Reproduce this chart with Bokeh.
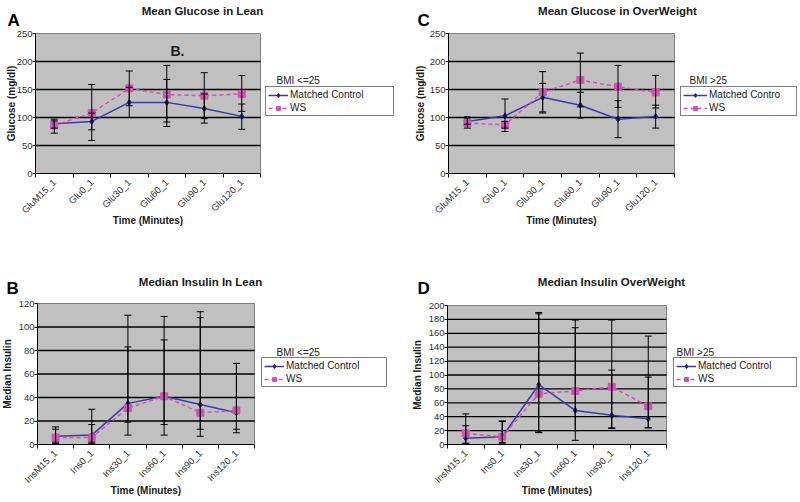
import numpy as np
from bokeh.plotting import figure
from bokeh.models import (Range1d, FixedTicker, ColumnDataSource, Whisker, TeeHead,
                          Legend, LegendItem, Label)
from bokeh.layouts import column, row
from bokeh.embed import file_html
from bokeh.resources import INLINE

# ---------------- data ----------------
glu_labels = ["GluM15_1", "Glu0_1", "Glu30_1", "Glu60_1", "Glu90_1", "Glu120_1"]
ins_labels = ["InsM15_1", "Ins0_1", "Ins30_1", "Ins60_1", "Ins90_1", "Ins120_1"]

# A: Mean Glucose in Lean
a_ctrl = [89, 93, 127, 127, 116, 102]
a_ctrl_lo = [81, 78, 100, 84, 90, 79]
a_ctrl_hi = [97, 108, 154, 168, 142, 124]
a_ws = [86, 108, 152, 141, 139, 142]
a_ws_lo = [72, 59, 121, 92, 98, 111]
a_ws_hi = [94, 159, 183, 193, 180, 175]

# C: Mean Glucose in OverWeight
c_ctrl = [93, 103, 136, 122, 97, 102]
c_ctrl_lo = [88, 75, 110, 99, 64, 81]
c_ctrl_hi = [101, 133, 161, 145, 130, 122]
c_ws = [90, 87, 145, 167, 155, 145]
c_ws_lo = [81, 81, 108, 119, 118, 117]
c_ws_hi = [99, 93, 182, 215, 193, 175]

# B: Median Insulin In Lean
b_ctrl = [7, 8, 35, 41, 34, 27]
b_ctrl_lo = [1, 1, 8, 8, 7, 10]
b_ctrl_hi = [15, 30, 110, 109, 113, 69]
b_ws = [6, 6, 31, 41, 27, 29]
b_ws_lo = [2, 2, 19, 17, 13, 13]
b_ws_hi = [13, 17, 83, 89, 108, 69]

# D: Median Insulin OverWeight
d_ctrl = [9, 11, 86, 49, 42, 37]
d_ctrl_lo = [1, 1, 17, 6, 23, 24]
d_ctrl_hi = [27, 34, 190, 168, 107, 97]
d_ws = [16, 11, 73, 77, 83, 55]
d_ws_lo = [2, 3, 18, 20, 24, 24]
d_ws_hi = [44, 33, 188, 179, 179, 156]

FONT = "Liberation Sans"
C_CTRL = "#3b3ba8"
C_CTRL_M = "#232378"
C_WS = "#d052b4"
TXT = "#1a1a1a"
NBSP = "\u00a0"


def make_panel(cats, ctrl, ctrl_lo, ctrl_hi, ws, ws_lo, ws_hi, ymax, ystep, ylabel,
               title, letter, bmi, ctrl_name, geo, note=None):
    W, H = geo["fig"]
    L, T, R, B = geo["area"]
    n = len(cats)
    ppx = (R - L) / n
    ppy = (B - T) / ymax
    x0, x1 = -L / ppx, n + (W - R) / ppx
    y0, y1 = -(H - B) / ppy, ymax + T / ppy

    def dx(px):
        return x0 + px / ppx

    def dy(py):
        return y1 - py / ppy

    p = figure(width=W, height=H, x_range=Range1d(x0, x1), y_range=Range1d(y0, y1),
               output_backend="svg", toolbar_location=None,
               min_border_left=0, min_border_right=0, min_border_top=0, min_border_bottom=0)
    p.background_fill_color = "white"
    p.border_fill_color = "white"
    p.outline_line_color = None
    p.xgrid.visible = False
    p.ygrid.visible = False

    x = np.arange(n) + 0.5

    # plot area (grey) and horizontal grid lines at the y ticks
    p.quad(left=[0], right=[n], bottom=[0], top=[ymax], fill_color="#c0c0c0",
           line_color="#808080", line_width=1)
    gy = list(range(ystep, ymax, ystep))
    p.segment(x0=[0] * len(gy), x1=[n] * len(gy), y0=gy, y1=gy,
              line_color="black", line_width=1.3)

    # x axis (fixed at y = 0)
    xa = p.xaxis[0]
    xa.fixed_location = 0
    xa.bounds = (0, n)
    xa.ticker = FixedTicker(ticks=list(x), minor_ticks=list(range(n + 1)))
    xa.major_label_overrides = {float(xi): c for xi, c in zip(x, cats)}
    xa.major_label_orientation = np.pi / 4
    xa.major_tick_out = 0
    xa.major_tick_in = 0
    xa.minor_tick_out = 4
    xa.minor_tick_in = 0
    xa.minor_tick_line_color = "black"
    xa.axis_line_color = "black"
    xa.major_label_text_font = FONT
    xa.major_label_text_font_size = "9.5px"
    xa.major_label_text_color = "#333333"
    xa.major_label_standoff = 3
    xa.axis_label = "Time (Minutes)"
    xa.axis_label_text_font = FONT
    xa.axis_label_text_font_size = "10px"
    xa.axis_label_text_font_style = "bold"
    xa.axis_label_text_color = TXT
    xa.axis_label_standoff = -7

    # y axis (fixed at x = 0)
    ya = p.yaxis[0]
    ya.fixed_location = 0
    ya.bounds = (0, ymax)
    ya.ticker = FixedTicker(ticks=list(range(0, ymax + 1, ystep)))
    ya.minor_tick_out = 0
    ya.minor_tick_in = 0
    ya.major_tick_out = 3
    ya.major_tick_in = 0
    ya.axis_line_color = "black"
    ya.major_tick_line_color = "black"
    ya.major_label_text_font = FONT
    ya.major_label_text_font_size = "9.5px"
    ya.major_label_text_color = "#333333"
    ya.major_label_standoff = 0
    ya.axis_label = ylabel
    ya.axis_label_text_font = FONT
    ya.axis_label_text_font_size = "10px"
    ya.axis_label_text_font_style = "bold"
    ya.axis_label_text_color = TXT
    ya.axis_label_standoff = geo["ylab_standoff"]

    # series
    l1 = p.line(x, ctrl, line_color=C_CTRL, line_width=1.5)
    s1 = p.scatter(x, ctrl, marker="diamond", size=6, fill_color=C_CTRL_M, line_color=C_CTRL_M)
    l2 = p.line(x, ws, line_color=C_WS, line_width=1.5, line_dash="4 3")
    s2 = p.scatter(x, ws, marker="square", size=7, fill_color=C_WS, line_color=C_WS)

    # error bars
    src = ColumnDataSource(dict(x=np.concatenate([x, x]),
                                lo=list(ctrl_lo) + list(ws_lo),
                                hi=list(ctrl_hi) + list(ws_hi)))
    w = Whisker(base="x", lower="lo", upper="hi", source=src, level="annotation",
                line_color="black", line_width=1,
                upper_head=TeeHead(size=7, line_color="black", line_width=1),
                lower_head=TeeHead(size=7, line_color="black", line_width=1))
    p.add_layout(w)

    # legend (trailing no-break spaces give the Excel-like empty space on the right)
    lx, lb, pad_n, gw = geo["legend"]
    leg = Legend(items=[LegendItem(label=ctrl_name + NBSP * pad_n, renderers=[l1, s1]),
                        LegendItem(label="WS", renderers=[l2, s2])],
                 location=(lx, H - lb), orientation="vertical",
                 border_line_color="black", border_line_width=1,
                 background_fill_color="white", background_fill_alpha=1,
                 label_text_font=FONT, label_text_font_size="10px",
                 label_text_line_height=1.0,
                 label_text_color="#222222",
                 glyph_width=gw, glyph_height=10, label_height=10,
                 label_standoff=2, padding=2, spacing=2, margin=0)
    p.add_layout(leg)

    bx, by = geo["bmi"]
    p.add_layout(Label(x=dx(bx), y=dy(by), text=bmi, text_baseline="middle",
                       text_align="left", text_font=FONT, text_font_size="10px",
                       text_color="#222222"))
    tx, ty = geo["title"]
    p.add_layout(Label(x=dx(tx), y=dy(ty), text=title, text_baseline="middle",
                       text_align="center", text_font=FONT, text_font_size="11.5px",
                       text_font_style="bold", text_color=TXT))
    kx, ky = geo["letter"]
    p.add_layout(Label(x=dx(kx), y=dy(ky), text=letter, text_baseline="alphabetic",
                       text_align="left", text_font=FONT, text_font_size="17px",
                       text_font_style="bold", text_color="black"))
    if note is not None:
        nt, (nx, ny) = note
        p.add_layout(Label(x=dx(nx), y=dy(ny), text=nt, text_baseline="middle",
                           text_align="center", text_font=FONT, text_font_size="14px",
                           text_font_style="bold", text_color=TXT))
    return p


# layout geometry in pixels (figure-relative): plot area (left, top, right, bottom)
geoA = dict(fig=(400, 250), area=(35, 33, 260, 173), legend=(265, 116, 10, 20),
            bmi=(276, 80), title=(202, 10), letter=(7, 20), ylab_standoff=-3)
geoC = dict(fig=(400, 250), area=(48, 33, 274, 173), legend=(280, 116, 5, 24),
            bmi=(289, 80), title=(217, 10), letter=(17, 20), ylab_standoff=1)
geoB = dict(fig=(400, 252), area=(37, 53, 254, 194), legend=(261, 137, 9, 20),
            bmi=(276, 102), title=(200, 31), letter=(6, 38), ylab_standoff=3)
geoD = dict(fig=(400, 252), area=(47, 55, 266, 194), legend=(273, 137, 8, 20),
            bmi=(276, 102), title=(211, 31), letter=(17, 38), ylab_standoff=3)

pA = make_panel(glu_labels, a_ctrl, a_ctrl_lo, a_ctrl_hi, a_ws, a_ws_lo, a_ws_hi,
                250, 50, "Glucose (mg/dl)", "Mean Glucose in Lean", "A",
                "BMI <=25", "Matched Control", geoA, note=("B.", (177, 50)))
pC = make_panel(glu_labels, c_ctrl, c_ctrl_lo, c_ctrl_hi, c_ws, c_ws_lo, c_ws_hi,
                250, 50, "Glucose (mg/dl)", "Mean Glucose in OverWeight", "C",
                "BMI >25", "Matched Contro", geoC)
pB = make_panel(ins_labels, b_ctrl, b_ctrl_lo, b_ctrl_hi, b_ws, b_ws_lo, b_ws_hi,
                120, 20, "Median Insulin", "Median Insulin In Lean", "B",
                "BMI <=25", "Matched Control", geoB)
pD = make_panel(ins_labels, d_ctrl, d_ctrl_lo, d_ctrl_hi, d_ws, d_ws_lo, d_ws_hi,
                200, 20, "Median Insulin", "Median Insulin OverWeight", "D",
                "BMI >25", "Matched Control", geoD)

layout = column(row(pA, pC), row(pB, pD))
open("out.html", "w").write(file_html(layout, INLINE))
